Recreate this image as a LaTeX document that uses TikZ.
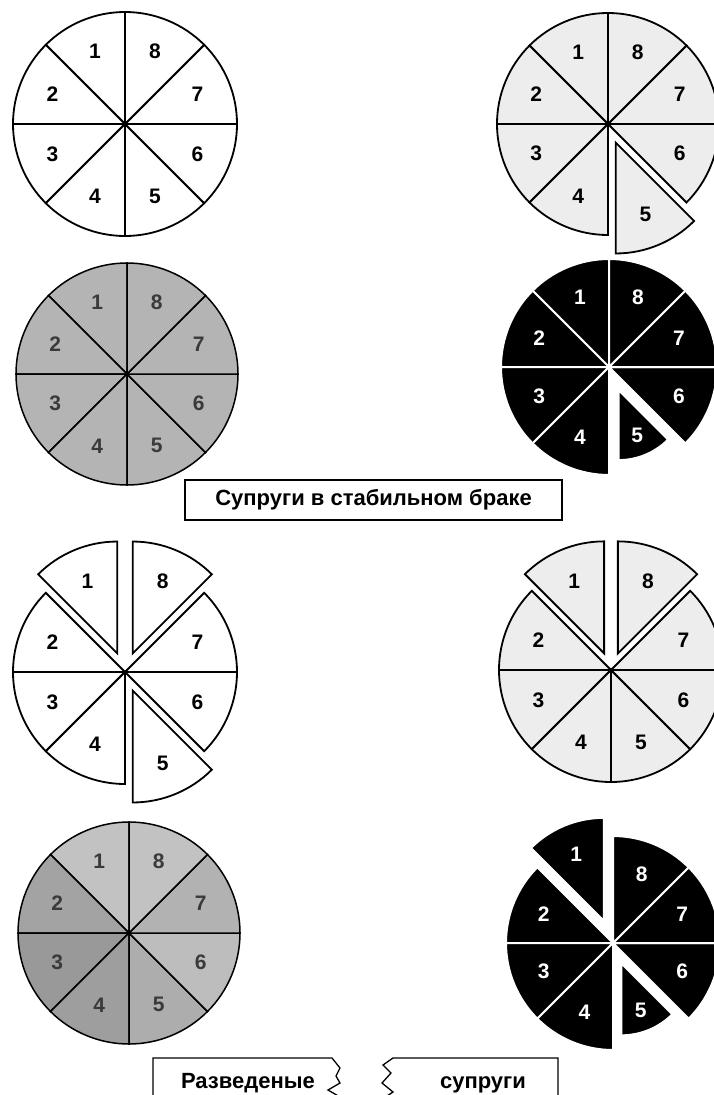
\documentclass[tikz,border=0pt]{standalone}
\usepackage{fontspec}
\setmainfont{Liberation Sans}
\usetikzlibrary{calc}
\definecolor{lightdot}{HTML}{EDEDED}
\definecolor{midgrey}{HTML}{B4B4B4}
\definecolor{numgrey}{HTML}{3A3A3A}
\tikzset{
  sect/.style   = {draw=black, line width=1.8pt, fill=white},
  sectlt/.style = {sect, fill=lightdot},
  sectmd/.style = {sect, line width=1.5pt, fill=midgrey},
  sectbk/.style = {draw=white, line width=2pt, fill=black},
  num/.style    = {font=\bfseries\fontsize{21}{21}\selectfont, inner sep=0pt},
  numg/.style   = {num, text=numgrey},
  numw/.style   = {num, text=white},
  capbox/.style = {draw, line width=1.3pt, font=\bfseries\fontsize{22}{22}\selectfont,
                   minimum width=377pt, minimum height=40pt, inner sep=0pt},
  captxt/.style = {font=\bfseries\fontsize{22}{22}\selectfont, inner sep=0pt, anchor=base},
  capline/.style= {draw, line width=1.3pt},
}
% one slice of a pie: centre, index, shift, radius, slice style, label style
\newcommand{\pieslice}[6]{%
  \pgfmathsetmacro{\slicea}{90+45*(#2-1)}%
  \draw[#5] ($(#1)+(\slicea+22.5:#3)$) -- ++(\slicea:#4)
    arc[start angle=\slicea, end angle=\slicea+45, radius=#4] -- cycle;
  \node[#6] (#1-n#2) at ($(#1)+(\slicea+22.5:#3+0.7*#4)$) {#2};
}

\begin{document}
\begin{tikzpicture}[x=1pt, y=1pt]
\useasboundingbox (0,0) rectangle (713,-1095);

\coordinate (c1) at (125,-124);
\coordinate (c2) at (608,-124);
\coordinate (c3) at (127,-374);
\coordinate (c4) at (609,-367);
\coordinate (c5) at (125,-672);
\coordinate (c6) at (611,-670);
\coordinate (c7) at (129,-933);
\coordinate (c8) at (613,-943);

% stable couple
\foreach \k in {1,...,8} {\pieslice{c1}{\k}{0}{112}{sect}{num}}
\foreach \k/\sh in {1/0,2/0,3/0,4/0,5/20,6/0,7/0,8/0} {\pieslice{c2}{\k}{\sh}{111}{sectlt}{num}}
\foreach \k in {1,...,8} {\pieslice{c3}{\k}{0}{111}{sectmd}{numg}}
\foreach \k in {1,2,3,4,6,7,8} {\pieslice{c4}{\k}{0}{108}{sectbk}{numw}}
\pieslice{c4}{5}{25}{70}{sectbk}{numw}

\node[capbox] (stable) at (373.5,-500) {Супруги в стабильном браке};

% divorced couple
\foreach \k/\sh in {1/20,2/0,3/0,4/0,5/20,6/0,7/0,8/20} {\pieslice{c5}{\k}{\sh}{112}{sect}{num}}
\foreach \k/\sh in {1/18,2/0,3/0,4/0,5/0,6/0,7/0,8/18} {\pieslice{c6}{\k}{\sh}{112}{sectlt}{num}}
\foreach \k/\tone in {1/24,2/36,3/40,4/38,5/32,6/26,7/30,8/24} {\pieslice{c7}{\k}{0}{111}{sectmd, fill=black!\tone}{numg}}
\foreach \k in {2,3,4,6,7,8} {\pieslice{c8}{\k}{0}{107}{sectbk}{numw}}
\pieslice{c8}{1}{24}{103}{sectbk}{numw}
\pieslice{c8}{5}{22}{72}{sectbk}{numw}

\node[captxt] (div1) at (248,-1088) {Разведеные};
\node[captxt] (div2) at (483,-1088) {супруги};
\draw[capline] (153,-1100) -- (153,-1058) -- (332,-1058) -- (340,-1068) -- (336,-1076)
  -- (340,-1083) -- (328,-1090) -- (340,-1097);
\draw[capline] (558,-1100) -- (558,-1058) -- (393,-1058) -- (383,-1065) -- (391,-1073)
  -- (382,-1083) -- (393,-1092) -- (384,-1098);
\end{tikzpicture}
\end{document}
